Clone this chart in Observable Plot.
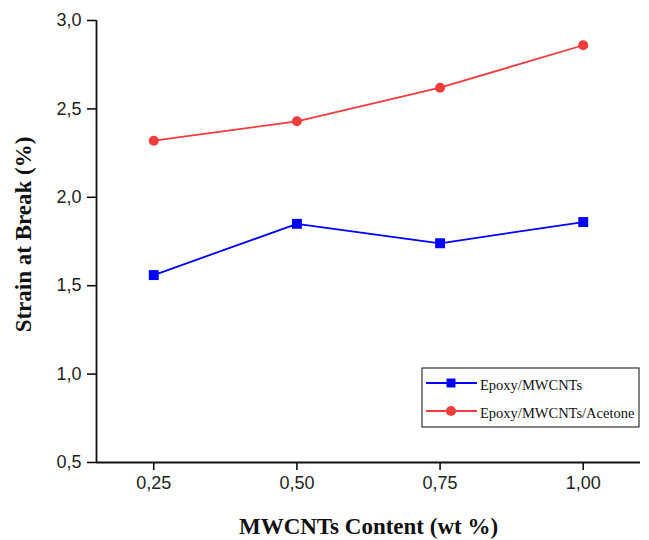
<!DOCTYPE html>
<html><head><meta charset="utf-8">
<script src="https://cdn.jsdelivr.net/npm/d3@7"></script>
<script src="https://cdn.jsdelivr.net/npm/@observablehq/plot@0.6"></script>
<style>body{margin:0;background:#fff}</style>
</head><body><div id="chart"></div>
<script>
const content = [0.25, 0.50, 0.75, 1.00];
const epoxy = [1.56, 1.85, 1.74, 1.86];
const epoxyAcetone = [2.32, 2.43, 2.62, 2.86];
const seriesNames = ["Epoxy/MWCNTs", "Epoxy/MWCNTs/Acetone"];
const seriesColors = ["#0000ff", "#f03c3c"];
const seriesSymbols = ["square", "circle"];
const xTicks = [0.25, 0.50, 0.75, 1.00];
const yTicks = [0.5, 1.0, 1.5, 2.0, 2.5, 3.0];
const xTitle = "MWCNTs Content (wt %)";
const yTitle = "Strain at Break (%)";

const rows = [];
[epoxy, epoxyAcetone].forEach((vals, i) => {
  content.forEach((c, j) => rows.push({series: seriesNames[i], x: c, y: vals[j]}));
});
const comma = (d, n) => d.toFixed(n).replace(".", ",");
const serif = "'Liberation Serif', 'Times New Roman', serif";

const plot = Plot.plot({
  width: 649, height: 540,
  marginLeft: 96, marginRight: 9, marginTop: 20, marginBottom: 78,
  style: {fontFamily: "'Liberation Sans', Arial, sans-serif", background: "#fff"},
  x: {domain: [0.15, 1.1]},
  y: {domain: [0.5, 3.0]},
  color: {domain: seriesNames, range: seriesColors},
  marks: [
    Plot.axisY({ticks: yTicks, tickSize: 9, tickPadding: 6, tickFormat: d => comma(d, 1),
      fontSize: 18, stroke: "#000", strokeWidth: 1.5, color: "#222", label: null}),
    Plot.axisX({ticks: xTicks, tickSize: 8, tickPadding: 6, tickFormat: d => comma(d, 2),
      fontSize: 18, stroke: "#000", strokeWidth: 1.5, color: "#222", label: null}),
    Plot.ruleX([0.15], {y1: 0.5, y2: 3.0, stroke: "#111", strokeWidth: 1.8}),
    Plot.ruleY([0.5], {x1: 0.15, x2: 1.1, stroke: "#111", strokeWidth: 1.8}),
    Plot.line(rows, {x: "x", y: "y", z: "series", stroke: "series", strokeWidth: 1.8}),
    Plot.dot(rows.filter(d => d.series === seriesNames[0]), {x: "x", y: "y", fill: "series", symbol: "square", r: 5.6}),
    Plot.dot(rows.filter(d => d.series === seriesNames[1]), {x: "x", y: "y", fill: "series", symbol: "circle", r: 5}),
    Plot.text([xTitle], {frameAnchor: "bottom", lineAnchor: "middle", textAnchor: "middle", dy: 64, text: d => d,
      fontSize: 23, fontWeight: "bold", fontFamily: serif, fill: "#111"}),
    Plot.text([yTitle], {frameAnchor: "left", lineAnchor: "middle", textAnchor: "middle", dx: -73, dy: -7, rotate: -90,
      text: d => d, fontSize: 23, fontWeight: "bold", fontFamily: serif, fill: "#111"})
  ]
});

// legend box inside the plot area
const svg = d3.select(plot);
const lg = svg.append("g").attr("transform", "translate(422,368)");
lg.append("rect").attr("width", 217).attr("height", 59).attr("fill", "#fff").attr("stroke", "#333").attr("stroke-width", 1.2);
seriesNames.forEach((name, i) => {
  const y = 15 + i * 28;
  lg.append("line").attr("x1", 4).attr("x2", 55).attr("y1", y).attr("y2", y)
    .attr("stroke", seriesColors[i]).attr("stroke-width", 1.8);
  lg.append("path").attr("transform", `translate(29,${y})`)
    .attr("d", d3.symbol(seriesSymbols[i] === "square" ? d3.symbolSquare : d3.symbolCircle, 80)())
    .attr("fill", seriesColors[i]);
  lg.append("text").attr("x", 58).attr("y", y + 1).attr("dy", "0.38em").attr("text-anchor", "start")
    .attr("font-family", serif).attr("font-size", 14.5).attr("fill", "#111")
    .text(name);
});
document.getElementById("chart").append(plot);
</script>
</body></html>
